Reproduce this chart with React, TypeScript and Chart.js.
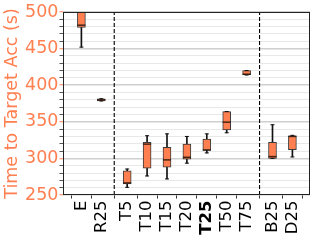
import React, { useEffect, useRef } from "react";
import Chart from "chart.js/auto";

const labels = ["E", "R25", "T5", "T10", "T15", "T20", "T25", "T50", "T75", "B25", "D25"];
const xPos = [0, 1, 2.3, 3.3, 4.3, 5.3, 6.3, 7.3, 8.3, 9.6, 10.6];
const whiskerLow = [452, 378.5, 260.5, 276, 272, 293.5, 307.5, 335, 414, 300, 302];
const q1 = [479, 378.5, 265, 286.5, 288, 299, 311, 339, 414, 300, 312];
const median = [482, 380, 266.5, 319.5, 298, 301.5, 311.5, 349.5, 415, 302.5, 330];
const q3 = [500, 381.5, 283, 322, 315, 319.5, 326.5, 364, 420, 322, 331];
const whiskerHigh = [500, 381.5, 285.5, 331, 333.5, 330, 333.5, 364, 420, 346, 331.5];
const separators = [1.65, 8.95];
const yTitle = "Time to Target Acc (s)";

const CORAL = "#ff7f50";
const FONT = "'DejaVu Sans', sans-serif";

export default function App() {
  const ref = useRef<HTMLCanvasElement | null>(null);

  useEffect(() => {
    document.body.style.margin = "0";
    const canvas = ref.current;
    if (!canvas) return;

    const frame = {
      id: "frame",
      afterDatasetsDraw(chart: any) {
        const { left, top, right, bottom } = chart.chartArea;
        const c = chart.ctx;
        c.save();
        c.strokeStyle = "#222";
        c.lineWidth = 1;
        c.strokeRect(Math.round(left) + 0.5, Math.round(top) + 0.5, Math.round(right - left) - 1, Math.round(bottom - top) - 1);
        c.restore();
      },
    };

    const sepSets = separators.map((s) => ({
      type: "line" as const,
      data: [
        { x: s, y: 250 },
        { x: s, y: 500 },
      ],
      borderColor: "#000",
      borderWidth: 1.1,
      borderDash: [4, 2],
      pointRadius: 0,
      order: 5,
    }));

    const chart = new Chart(canvas, {
      type: "bar",
      data: {
        datasets: [
          {
            type: "scatter",
            data: xPos.map((x, i) => ({ x, y: median[i] })),
            pointStyle: "line",
            pointRadius: 4,
            pointBorderWidth: 1.5,
            pointBorderColor: "rgba(40,20,10,0.85)",
            borderColor: "rgba(40,20,10,0.85)",
            order: 1,
          } as any,
          {
            type: "scatter",
            data: [
              ...xPos.map((x, i) => ({ x, y: whiskerLow[i] })),
              ...xPos.map((x, i) => ({ x, y: whiskerHigh[i] })),
            ],
            pointStyle: "line",
            pointRadius: 2,
            pointBorderWidth: 1,
            pointBorderColor: "#111",
            borderColor: "#111",
            order: 1,
          } as any,
          {
            type: "bar",
            data: xPos.map((x, i) => ({ x, y: [q1[i], q3[i]] })),
            backgroundColor: CORAL,
            borderColor: "#3a3a3a",
            borderWidth: 1,
            borderSkipped: false,
            barThickness: 8,
            grouped: false,
            order: 2,
          } as any,
          {
            type: "bar",
            data: xPos.map((x, i) => ({ x, y: [whiskerLow[i], whiskerHigh[i]] })),
            backgroundColor: "#111",
            borderWidth: 0,
            barThickness: 1,
            grouped: false,
            order: 3,
          } as any,
          ...(sepSets as any[]),
        ],
      },
      options: {
        responsive: false,
        animation: false,
        devicePixelRatio: 1,
        layout: { padding: { top: 12, right: 7, left: 0, bottom: 0 } },
        plugins: { legend: { display: false }, tooltip: { enabled: false } },
        scales: {
          x: {
            type: "linear",
            min: -0.36,
            max: 10.92,
            afterBuildTicks: (axis: any) => {
              axis.ticks = xPos.map((v) => ({ value: v }));
            },
            afterFit: (scale: any) => {
              scale.height = 48;
            },
            border: { display: false },
            grid: { display: true, drawOnChartArea: false, drawTicks: true, tickLength: 3.5, tickColor: "#333", tickWidth: 1 },
            ticks: {
              autoSkip: false,
              minRotation: 90,
              maxRotation: 90,
              padding: 2,
              color: "#000",
              callback: (_v: any, i: number) => labels[i],
              font: (ctx: any) => ({
                family: FONT,
                size: 16.5,
                weight: ctx.tick && ctx.tick.label === "T25" ? "bold" : "normal",
              }),
            },
          },
          y: {
            type: "linear",
            min: 250,
            max: 500,
            afterFit: (scale: any) => {
              scale.width = 63;
            },
            border: { display: false },
            grid: {
              color: (ctx: any) => (ctx.tick && ctx.tick.value % 50 === 0 ? "#cfcfcf" : "#e8e8e8"),
              lineWidth: (ctx: any) => (ctx.tick && ctx.tick.value % 50 === 0 ? 1.5 : 1),
              tickColor: (ctx: any) => (ctx.tick && ctx.tick.value % 50 === 0 ? CORAL : "#555"),
              tickLength: 3.5,
              tickWidth: 1,
            },
            ticks: {
              stepSize: 10,
              autoSkip: false,
              padding: 1,
              color: CORAL,
              font: { family: FONT, size: 17.5 },
              callback: (v: any) => (Number(v) % 50 === 0 ? String(v) : ""),
            },
            title: {
              display: true,
              text: yTitle,
              color: CORAL,
              font: { family: FONT, size: 17.5 },
              padding: { top: 2, bottom: 0 },
            },
          },
        },
      } as any,
      plugins: [frame],
    });

    return () => chart.destroy();
  }, []);

  return <canvas ref={ref} width={317} height={243} style={{ display: "block", width: 317, height: 243 }} />;
}
